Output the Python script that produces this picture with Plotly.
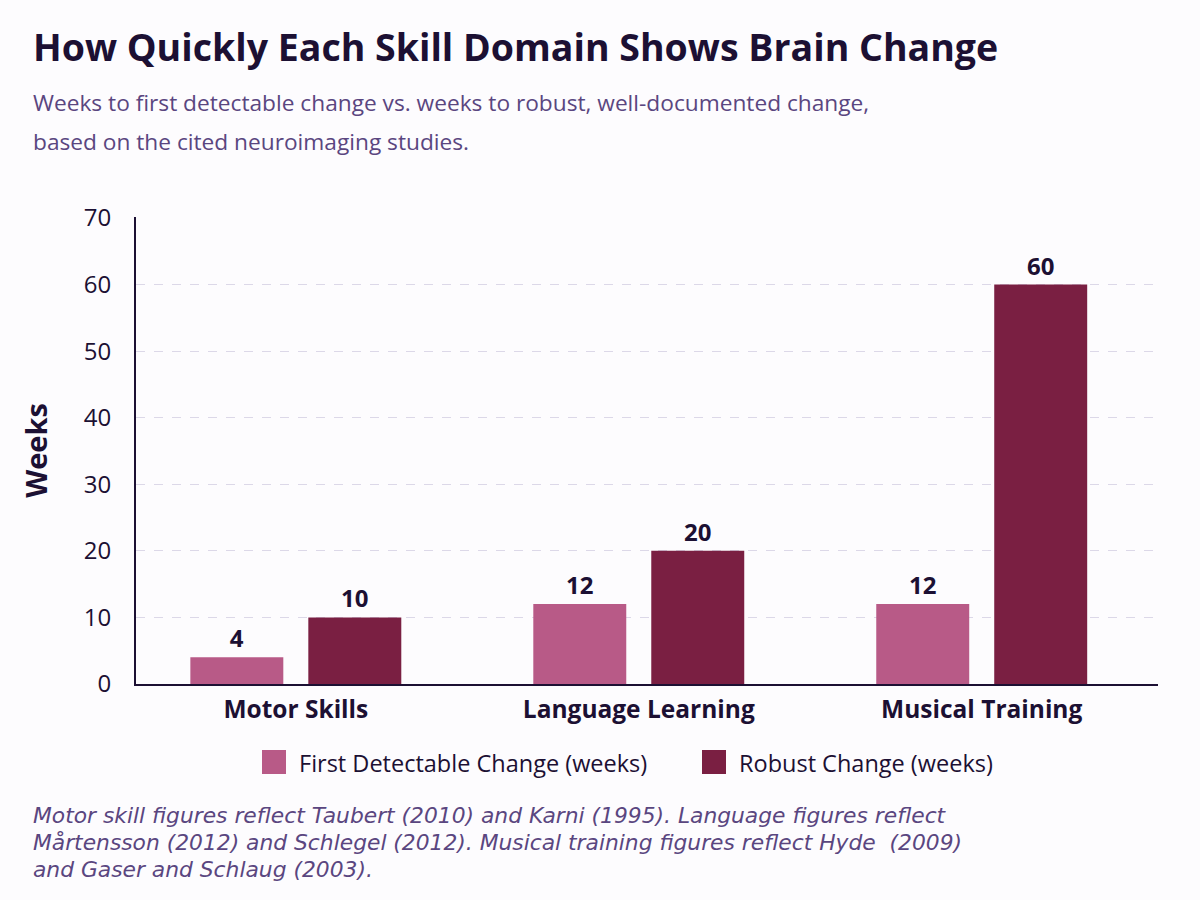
import plotly.graph_objects as go

categories = ["Motor Skills", "Language Learning", "Musical Training"]
first_change = [4, 12, 12]
robust_change = [10, 20, 60]
series_names = ["First Detectable Change (weeks)", "Robust Change (weeks)"]
y_ticks = [0, 10, 20, 30, 40, 50, 60, 70]

FONT = "'Open Sans', sans-serif"
NOTE_FONT = "'DejaVu Sans', sans-serif"
DARK = "#1c1033"
SUB = "#5a4680"
C_FIRST = "#b85a87"
C_ROBUST = "#7a1f42"
colors = [C_FIRST, C_ROBUST]

fig = go.Figure()
for vals, name, col in zip([first_change, robust_change], series_names, colors):
    fig.add_trace(go.Bar(
        x=categories, y=vals, name=name,
        marker=dict(color=col, line=dict(width=0)),
        texttemplate="<b>%{y}</b>",
        textposition="outside",
        textfont=dict(size=24, color=DARK, family=FONT), cliponaxis=False,
        showlegend=False,
    ))

L, R, T, B = 136, 42, 217, 216
PW = 1200 - L - R
PH = 900 - T - B

def px_x(x):
    return (x - L) / PW

def px_y(y):
    return (900 - B - y) / PH

annotations = [
    dict(text="<b>How Quickly Each Skill Domain Shows Brain Change</b>",
         x=px_x(31), y=px_y(47), font=dict(size=37.5, color=DARK, family=FONT)),
    dict(text="Weeks to first detectable change vs. weeks to robust, well-documented change,",
         x=px_x(31), y=px_y(103), font=dict(size=22.7, color=SUB, family=FONT)),
    dict(text="based on the cited neuroimaging studies.",
         x=px_x(31), y=px_y(141), font=dict(size=22.7, color=SUB, family=FONT)),
    dict(text="<i>Motor skill figures reflect Taubert (2010) and Karni (1995). Language figures reflect</i>",
         x=px_x(31), y=px_y(815), font=dict(size=21.8, color=SUB, family=NOTE_FONT)),
    dict(text="<i>Mårtensson (2012) and Schlegel (2012). Musical training figures reflect Hyde  (2009)</i>",
         x=px_x(31), y=px_y(842), font=dict(size=21.8, color=SUB, family=NOTE_FONT)),
    dict(text="<i>and Gaser and Schlaug (2003).</i>",
         x=px_x(31), y=px_y(869), font=dict(size=21.8, color=SUB, family=NOTE_FONT)),
]

# custom legend (swatch + label)
legend_swatch_x = [262, 702]
shapes = []
for sx, name, col in zip(legend_swatch_x, series_names, colors):
    shapes.append(dict(type="rect", xref="paper", yref="paper",
                       x0=px_x(sx), x1=px_x(sx + 24), y0=px_y(774), y1=px_y(750),
                       fillcolor=col, line=dict(width=0)))
    annotations.append(dict(text=name, x=px_x(sx + 35), y=px_y(763),
                            font=dict(size=23.5, color=DARK, family=FONT)))

for a in annotations:
    a.update(xref="paper", yref="paper", xanchor="left", yanchor="middle",
             showarrow=False, align="left")

fig.update_layout(
    width=1200, height=900,
    margin=dict(l=L, r=R, t=T, b=B, autoexpand=False),
    paper_bgcolor="#fdfcfe", plot_bgcolor="#fdfcfe",
    barmode="group", bargap=0.312, bargroupgap=0.212,
    font=dict(family=FONT, color=DARK),
    showlegend=False,
    annotations=annotations,
    shapes=shapes,
    xaxis=dict(
        range=[-0.466, 2.514],
        showline=True, linecolor=DARK, linewidth=2,
        tickfont=dict(size=24.5, color=DARK, family=FONT),
        ticks="", showgrid=False, ticklabelstandoff=3,
        tickmode="array", tickvals=categories,
        ticktext=["<b>" + c + "</b>" for c in categories],
    ),
    yaxis=dict(
        range=[0, 70.15], tickvals=y_ticks, showline=True, linecolor=DARK, linewidth=2,
        showgrid=True, gridcolor="#dcd8e8", griddash="dash", gridwidth=1,
        zeroline=False, ticks="", tickfont=dict(size=24, color=DARK, family=FONT),
        ticklabelstandoff=18,
        title=dict(text="<b>Weeks</b>", font=dict(size=29, color=DARK, family=FONT), standoff=28),
    ),
)

fig.write_html("out.html")
